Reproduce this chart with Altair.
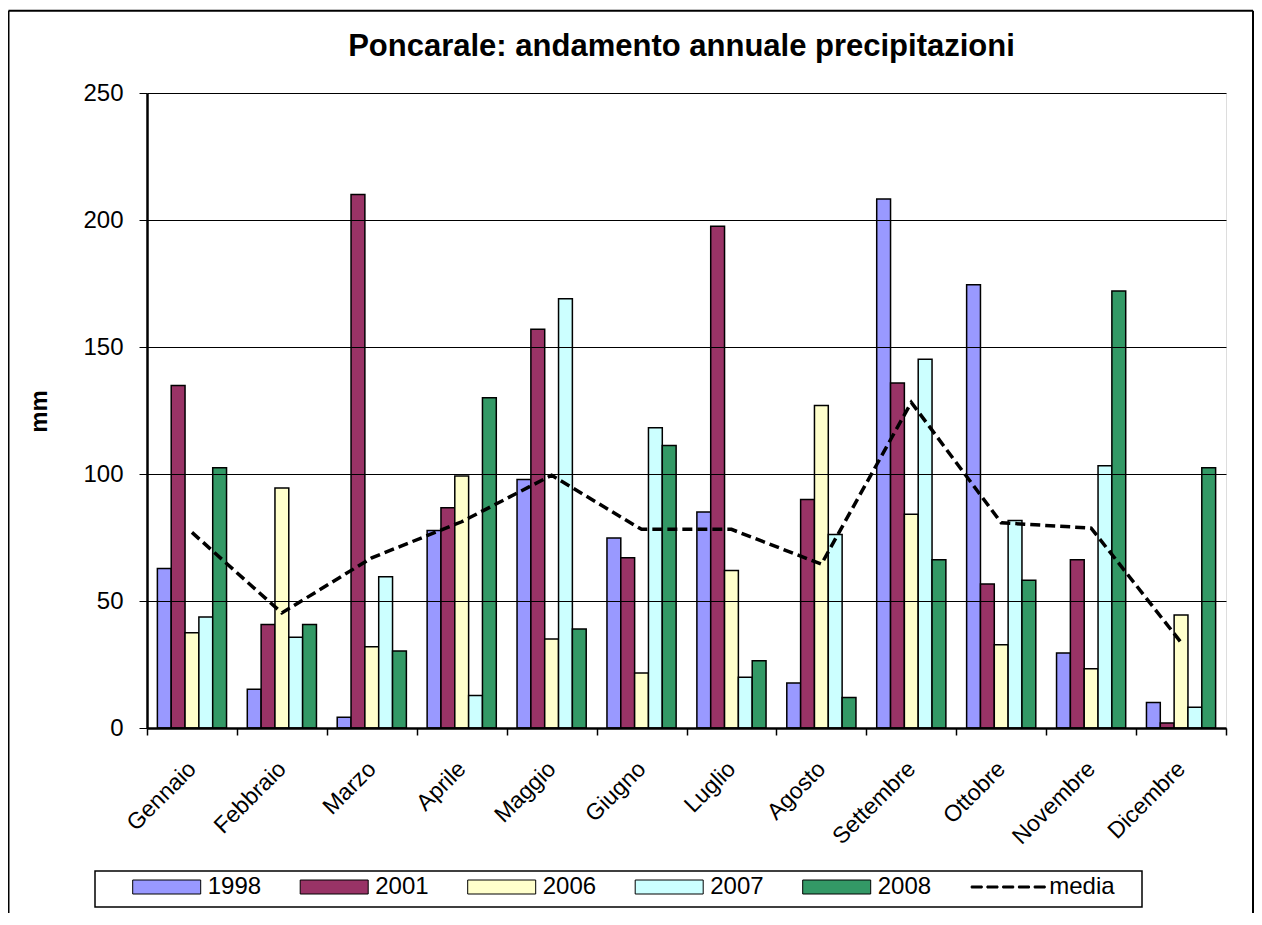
import altair as alt
import pandas as pd

months = ["Gennaio", "Febbraio", "Marzo", "Aprile", "Maggio", "Giugno",
          "Luglio", "Agosto", "Settembre", "Ottobre", "Novembre", "Dicembre"]
series_names = ["1998", "2001", "2006", "2007", "2008"]
v1998 = [62.8, 15.3, 4.2, 77.8, 97.8, 74.8, 85.0, 17.7, 208.3, 174.5, 29.5, 10.0]
v2001 = [134.8, 40.7, 210.0, 86.7, 157.0, 67.0, 197.5, 90.0, 135.8, 56.7, 66.2, 2.0]
v2006 = [37.5, 94.5, 32.0, 99.2, 35.0, 21.7, 62.0, 127.0, 84.2, 32.8, 23.3, 44.5]
v2007 = [43.7, 35.7, 59.5, 12.8, 169.0, 118.2, 20.0, 76.2, 145.2, 81.7, 103.2, 8.2]
v2008 = [102.5, 40.7, 30.3, 130.0, 39.0, 111.2, 26.5, 12.0, 66.2, 58.2, 172.0, 102.5]
media = [77.0, 45.3, 67.0, 81.2, 99.5, 78.2, 78.2, 64.5, 128.2, 80.8, 78.7, 33.7]
y_ticks = [0, 50, 100, 150, 200, 250]

legend_domain = series_names + ["media"]
legend_colors = ["#9999FF", "#993366", "#FFFFCC", "#CCFFFF", "#339966", "#000000"]

rows = []
for name, vals in zip(series_names, [v1998, v2001, v2006, v2007, v2008]):
    for m, v in zip(months, vals):
        rows.append({"mese": m, "serie": name, "mm": v})
bars_df = pd.DataFrame(rows)
media_df = pd.DataFrame({"mese": months, "media": media})

FONT = "Liberation Sans"

# legend symbol shapes (units of 7 px)
rect_path = "M-4.857,-1H4.857V1H-4.857Z"
dash_parts = []
x0 = -37.0
for i in range(5):
    a, b = x0, x0 + 11.0
    dash_parts.append(f"M{a/7:.3f},-0.143H{b/7:.3f}V0.143H{a/7:.3f}Z")
    x0 += 15.75
dash_path = "".join(dash_parts)
shape_expr = f"datum.value === 'media' ? '{dash_path}' : '{rect_path}'"

x_enc = alt.X(
    "mese:N", sort=months, title=None,
    scale=alt.Scale(paddingInner=0, paddingOuter=0),
    axis=alt.Axis(
        labelAngle=315, labelAlign="right", labelBaseline="middle",
        labelFont=FONT, labelFontSize=23, labelColor="black", labelPadding=30,
        tickBand="extent", tickSize=7, tickColor="black", tickWidth=1.5,
        domainColor="black", domainWidth=2.5, grid=False, zindex=1,
    ),
)

bars = alt.Chart(bars_df).mark_bar(stroke="black", strokeWidth=1.5).encode(
    x=x_enc,
    xOffset=alt.XOffset("serie:N", sort=series_names,
                        scale=alt.Scale(paddingInner=0, paddingOuter=0.75)),
    y=alt.Y(
        "mm:Q", title="mm",
        scale=alt.Scale(domain=[0, 250], nice=False),
        axis=alt.Axis(
            values=y_ticks, labelFont=FONT, labelFontSize=24, labelColor="black",
            labelPadding=16, tickSize=8, tickColor="black", tickWidth=1,
            domainColor="black", domainWidth=2.5,
            grid=True, gridColor="black", gridWidth=1,
            titleFont=FONT, titleFontSize=24, titleFontWeight="bold",
            titleAngle=270, titleX=-108, titleY=318,
            titleAlign="center", titleBaseline="middle", zindex=1,
        ),
    ),
    color=alt.Color(
        "serie:N",
        scale=alt.Scale(domain=legend_domain, range=legend_colors),
        legend=alt.Legend(
            title=None, orient="none", legendX=-14.3, legendY=782,
            direction="horizontal", columns=6, columnPadding=36.5, rowPadding=0,
            labelFont=FONT, labelFontSize=24, labelColor="black",
            labelOffset=29, symbolOffset=22, symbolSize=196,
            symbolStrokeWidth=1, symbolStrokeColor="black",
            symbolType=alt.ExprRef(expr=shape_expr),
            padding=0,
        ),
    ),
)

line = alt.Chart(media_df).mark_line(
    color="black", strokeWidth=3.5, strokeDash=[10, 5]
).encode(
    x=alt.X("mese:N", sort=months),
    y=alt.Y("media:Q"),
)

one = alt.Data(values=[{"k": 1}])
frame_left = alt.Chart(one).mark_rule(color="black", strokeWidth=2).encode(
    x=alt.value(-138.5), y=alt.value(-82.3), y2=alt.value(850))
frame_top = alt.Chart(one).mark_rule(color="black", strokeWidth=2).encode(
    x=alt.value(-138.5), x2=alt.value(1106), y=alt.value(-82.3))
frame_right = alt.Chart(one).mark_rule(color="black", strokeWidth=2).encode(
    x=alt.value(1106), y=alt.value(-82.3), y2=alt.value(850))
legend_box = alt.Chart(one).mark_rect(fill="white", stroke="black", strokeWidth=1.5).encode(
    x=alt.value(-52), x2=alt.value(995), y=alt.value(778), y2=alt.value(814))

chart = alt.layer(
    frame_left, frame_top, frame_right, legend_box, bars, line
).properties(
    width=1079,
    height=635,
    autosize=alt.AutoSizeParams(type="none"),
    padding={"left": 139, "top": 85, "right": 28, "bottom": 185},
    title=alt.TitleParams(
        "Poncarale: andamento annuale precipitazioni",
        font=FONT, fontSize=31, fontWeight="bold", color="black",
        anchor="middle", offset=0, dy=53, dx=-5,
    ),
).configure_view(
    stroke="black", strokeWidth=1.5
).configure(background="white")

chart.save("out.html", embed_options={"renderer": "svg", "actions": False})
